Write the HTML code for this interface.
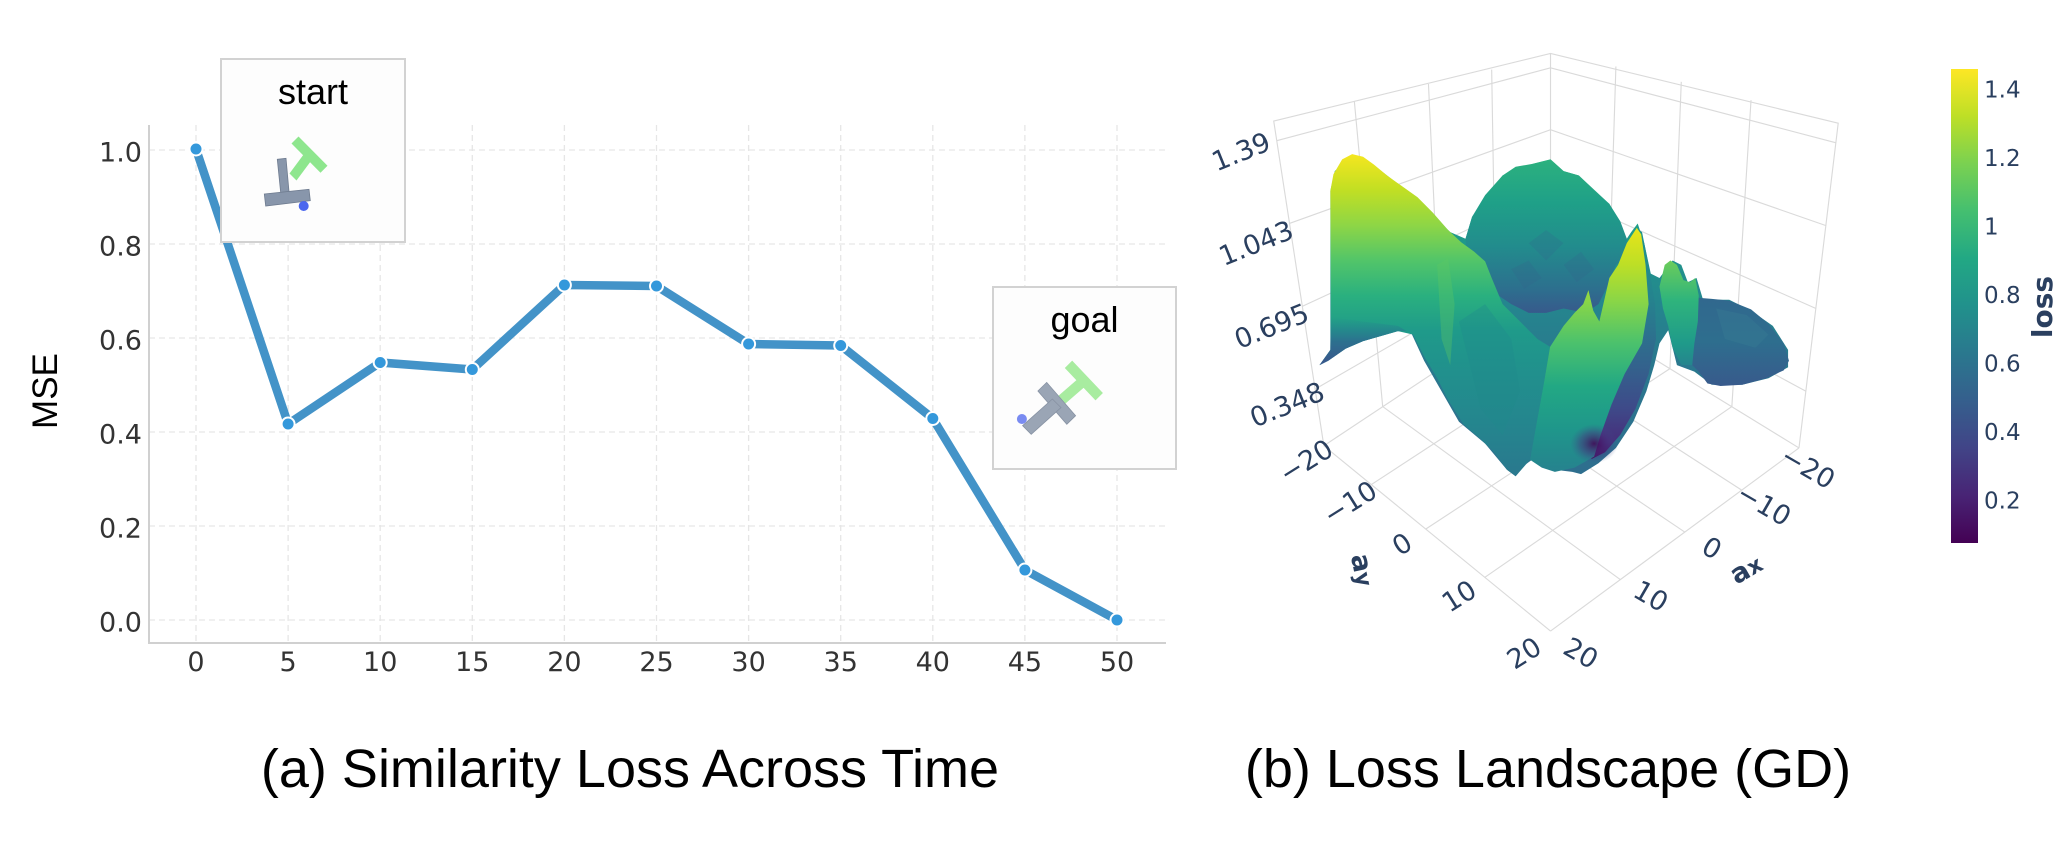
<!DOCTYPE html>
<html>
<head>
<meta charset="utf-8">
<style>
  html,body{margin:0;padding:0;background:#fff;}
  svg{display:block;}
</style>
</head>
<body>
<svg width="2071" height="842" viewBox="0 0 2071 842" xmlns="http://www.w3.org/2000/svg">
  <defs>
    <linearGradient id="cb" x1="0" y1="0" x2="0" y2="1">
      <stop offset="0" stop-color="#fde725"/>
      <stop offset="0.1" stop-color="#bddf26"/>
      <stop offset="0.2" stop-color="#7ad151"/>
      <stop offset="0.3" stop-color="#44bf70"/>
      <stop offset="0.4" stop-color="#22a884"/>
      <stop offset="0.5" stop-color="#21918c"/>
      <stop offset="0.6" stop-color="#2a788e"/>
      <stop offset="0.7" stop-color="#355f8d"/>
      <stop offset="0.8" stop-color="#414487"/>
      <stop offset="0.9" stop-color="#482475"/>
      <stop offset="1" stop-color="#440154"/>
    </linearGradient>
    <linearGradient id="gBase" gradientUnits="userSpaceOnUse" x1="0" y1="220" x2="0" y2="950">
      <stop offset="0" stop-color="#2ab07f"/>
      <stop offset="0.25" stop-color="#1f9a8a"/>
      <stop offset="0.45" stop-color="#24878e"/>
      <stop offset="0.65" stop-color="#2a788e"/>
      <stop offset="1" stop-color="#2e6e8e"/>
    </linearGradient>
    <linearGradient id="gMtn" gradientUnits="userSpaceOnUse" x1="0" y1="228" x2="0" y2="585">
      <stop offset="0" stop-color="#2cb17e"/>
      <stop offset="0.28" stop-color="#1fa088"/>
      <stop offset="0.56" stop-color="#228c8d"/>
      <stop offset="0.82" stop-color="#2c718e"/>
      <stop offset="1" stop-color="#38588c"/>
    </linearGradient>
    <linearGradient id="gLeft" gradientUnits="userSpaceOnUse" x1="0" y1="216" x2="0" y2="955">
      <stop offset="0" stop-color="#f5e61f"/>
      <stop offset="0.11" stop-color="#c2df23"/>
      <stop offset="0.22" stop-color="#8ed645"/>
      <stop offset="0.33" stop-color="#52c569"/>
      <stop offset="0.44" stop-color="#2ab07f"/>
      <stop offset="0.55" stop-color="#1f9a8a"/>
      <stop offset="0.68" stop-color="#21908d"/>
      <stop offset="0.86" stop-color="#25848e"/>
      <stop offset="1" stop-color="#2a788e"/>
    </linearGradient>
    <linearGradient id="gLeftBot" gradientUnits="userSpaceOnUse" x1="0" y1="590" x2="0" y2="700">
      <stop offset="0" stop-color="#25848e" stop-opacity="0"/>
      <stop offset="0.5" stop-color="#2c718e"/>
      <stop offset="1" stop-color="#3a548c"/>
    </linearGradient>
    <linearGradient id="gBlob" gradientUnits="userSpaceOnUse" x1="0" y1="545" x2="0" y2="748">
      <stop offset="0" stop-color="#31688e"/>
      <stop offset="0.5" stop-color="#2e6e8e"/>
      <stop offset="1" stop-color="#385a8c"/>
    </linearGradient>
    <linearGradient id="gGSpike" gradientUnits="userSpaceOnUse" x1="0" y1="460" x2="0" y2="705">
      <stop offset="0" stop-color="#6ccd5a"/>
      <stop offset="0.37" stop-color="#2fb47c"/>
      <stop offset="0.78" stop-color="#1f9a8a"/>
      <stop offset="1" stop-color="#26828e"/>
    </linearGradient>
    <linearGradient id="gF" gradientUnits="userSpaceOnUse" x1="0" y1="385" x2="0" y2="945">
      <stop offset="0" stop-color="#e8e419"/>
      <stop offset="0.15" stop-color="#bddf26"/>
      <stop offset="0.31" stop-color="#86d549"/>
      <stop offset="0.47" stop-color="#4cc26c"/>
      <stop offset="0.65" stop-color="#22a884"/>
      <stop offset="0.83" stop-color="#1f968b"/>
      <stop offset="1" stop-color="#26828e"/>
    </linearGradient>
    <linearGradient id="gDark" gradientUnits="userSpaceOnUse" x1="0" y1="390" x2="0" y2="915">
      <stop offset="0" stop-color="#1f948c"/>
      <stop offset="0.3" stop-color="#25838e"/>
      <stop offset="0.59" stop-color="#33638d"/>
      <stop offset="0.78" stop-color="#3e4a89"/>
      <stop offset="0.93" stop-color="#472d7b"/>
      <stop offset="1" stop-color="#440154"/>
    </linearGradient>
    <radialGradient id="gPurp" cx="0.5" cy="0.5" r="0.5">
      <stop offset="0" stop-color="#440154" stop-opacity="0.85"/>
      <stop offset="0.6" stop-color="#46327e" stop-opacity="0.45"/>
      <stop offset="1" stop-color="#3b528b" stop-opacity="0"/>
    </radialGradient>
  </defs>

  <!-- ================= Panel (a) ================= -->
  <g stroke="#e6e6e6" stroke-width="1.3" stroke-dasharray="6,4" fill="none">
    <line x1="149" y1="150" x2="1166" y2="150"/>
    <line x1="149" y1="244" x2="1166" y2="244"/>
    <line x1="149" y1="338" x2="1166" y2="338"/>
    <line x1="149" y1="432" x2="1166" y2="432"/>
    <line x1="149" y1="526" x2="1166" y2="526"/>
    <line x1="149" y1="620" x2="1166" y2="620"/>
    <line x1="196" y1="125" x2="196" y2="643"/>
    <line x1="288.1" y1="125" x2="288.1" y2="643"/>
    <line x1="380.2" y1="125" x2="380.2" y2="643"/>
    <line x1="472.3" y1="125" x2="472.3" y2="643"/>
    <line x1="564.4" y1="125" x2="564.4" y2="643"/>
    <line x1="656.5" y1="125" x2="656.5" y2="643"/>
    <line x1="748.6" y1="125" x2="748.6" y2="643"/>
    <line x1="840.7" y1="125" x2="840.7" y2="643"/>
    <line x1="932.8" y1="125" x2="932.8" y2="643"/>
    <line x1="1024.9" y1="125" x2="1024.9" y2="643"/>
    <line x1="1117" y1="125" x2="1117" y2="643"/>
  </g>
  <line x1="149" y1="125" x2="149" y2="644" stroke="#d0d0d0" stroke-width="2"/>
  <line x1="148" y1="643" x2="1166" y2="643" stroke="#d0d0d0" stroke-width="2"/>

  <g font-family="'DejaVu Sans', 'Liberation Sans', sans-serif" font-size="27" fill="#333">
    <g text-anchor="end">
      <text x="142" y="161.5">1.0</text>
      <text x="142" y="255.5">0.8</text>
      <text x="142" y="349.5">0.6</text>
      <text x="142" y="443.5">0.4</text>
      <text x="142" y="537.5">0.2</text>
      <text x="142" y="631.5">0.0</text>
    </g>
    <g text-anchor="middle">
      <text x="196" y="671">0</text>
      <text x="288.1" y="671">5</text>
      <text x="380.2" y="671">10</text>
      <text x="472.3" y="671">15</text>
      <text x="564.4" y="671">20</text>
      <text x="656.5" y="671">25</text>
      <text x="748.6" y="671">30</text>
      <text x="840.7" y="671">35</text>
      <text x="932.8" y="671">40</text>
      <text x="1024.9" y="671">45</text>
      <text x="1117" y="671">50</text>
    </g>
  </g>
  <text x="57" y="391" transform="rotate(-90 57 391)" text-anchor="middle" font-family="'Liberation Sans', Arial, sans-serif" font-size="35" fill="#000">MSE</text>

  <polyline fill="none" stroke="#4393c8" stroke-width="8.5" stroke-linejoin="round" stroke-linecap="round"
    points="196,149 288.1,424 380.2,362.5 472.3,369.5 564.4,285 656.5,286 748.6,344 840.7,345.5 932.8,418.5 1024.9,570 1117,620"/>
  <g fill="#3498db" stroke="#ffffff" stroke-width="2">
    <circle cx="196" cy="149" r="6.5"/>
    <circle cx="288.1" cy="424" r="6.5"/>
    <circle cx="380.2" cy="362.5" r="6.5"/>
    <circle cx="472.3" cy="369.5" r="6.5"/>
    <circle cx="564.4" cy="285" r="6.5"/>
    <circle cx="656.5" cy="286" r="6.5"/>
    <circle cx="748.6" cy="344" r="6.5"/>
    <circle cx="840.7" cy="345.5" r="6.5"/>
    <circle cx="932.8" cy="418.5" r="6.5"/>
    <circle cx="1024.9" cy="570" r="6.5"/>
    <circle cx="1117" cy="620" r="6.5"/>
  </g>

  <!-- start box -->
  <rect x="221" y="59" width="184" height="183" fill="#fdfdfd" stroke="#d2d2d2" stroke-width="2"/>
  <text x="313" y="104" text-anchor="middle" font-family="'Liberation Sans', Arial, sans-serif" font-size="36" fill="#000">start</text>
  <polygon points="291.5,143.5 298.5,136.5 327.5,165.8 320.5,172.8" fill="#8ee68e"/>
  <polygon points="306,151.2 313,158.2 296.5,180.5 289.5,173.5" fill="#8ee68e"/>
  <polygon points="277.3,159.3 286,158.3 289,191.7 280.7,192.7" fill="#8896ab" stroke="#6f7c90" stroke-width="0.8"/>
  <polygon points="264.3,194 309,189.3 310.3,200.7 265.7,206" fill="#8896ab" stroke="#6f7c90" stroke-width="0.8"/>
  <circle cx="303.7" cy="206" r="5" fill="#4a66ee"/>

  <!-- goal box -->
  <rect x="993" y="287" width="183" height="182" fill="#fdfdfd" stroke="#d2d2d2" stroke-width="2"/>
  <text x="1084.5" y="332" text-anchor="middle" font-family="'Liberation Sans', Arial, sans-serif" font-size="36" fill="#000">goal</text>
  <polygon points="1064.8,368 1072.2,360.6 1102.9,393 1095.5,400.4" fill="#a8eca0"/>
  <polygon points="1080.3,376.8 1087.7,384.2 1063.3,405.4 1055.9,398" fill="#a8eca0"/>
  <polygon points="1037.9,391 1046.7,382.4 1075.6,415.7 1066.8,424.3" fill="#9aa5b5" stroke="#8792a3" stroke-width="0.8"/>
  <polygon points="1052.4,399 1061,407.6 1031.2,434.3 1022.6,425.7" fill="#9aa5b5" stroke="#8792a3" stroke-width="0.8"/>
  <circle cx="1021.9" cy="419" r="5" fill="#6a7ef0" opacity="0.9"/>

  <!-- ================= Panel (b) ================= -->
  <g transform="translate(1180,60) scale(0.4359)">
    <g stroke="#dadada" stroke-width="2.6" fill="none">
      <polyline points="330,885 215,140 850,-15 1510,145 1420,890"/>
      <line x1="850" y1="-15" x2="850" y2="540"/>
      <line x1="400" y1="95" x2="465" y2="795"/>
      <line x1="570" y1="55" x2="600" y2="706"/>
      <line x1="715" y1="22" x2="725" y2="623"/>
      <line x1="1000" y1="15" x2="981" y2="620"/>
      <line x1="1150" y1="50" x2="1124" y2="708"/>
      <line x1="1310" y1="92" x2="1266" y2="795"/>
      <polyline points="222,185 850,18 1505,190"/>
      <polyline points="251,375 850,160 1482,380"/>
      <polyline points="281,565 850,301 1459,570"/>
      <polyline points="310,755 850,443 1436,760"/>
      <line x1="330" y1="885" x2="850" y2="540"/>
      <line x1="439" y1="974" x2="981" y2="620"/>
      <line x1="564" y1="1076" x2="1124" y2="708"/>
      <line x1="699" y1="1187" x2="1266" y2="795"/>
      <line x1="850" y1="1310" x2="1420" y2="890"/>
      <line x1="850" y1="1310" x2="330" y2="885"/>
      <line x1="1010" y1="1192" x2="465" y2="795"/>
      <line x1="1158" y1="1083" x2="600" y2="706"/>
      <line x1="1289" y1="987" x2="725" y2="623"/>
      <line x1="1420" y1="890" x2="850" y2="540"/>
    </g>

    <polygon fill="url(#gBase)" points="320,700 345,665 345,300 355,255 395,218 430,230 520,300 620,395 655,410 670,360 740,265 810,238 850,228 880,255 915,265 985,330 1025,410 1035,395 1050,375 1065,420 1080,490 1100,500 1130,460 1150,470 1165,510 1185,500 1200,550 1260,550 1310,575 1360,610 1395,665 1395,705 1350,730 1290,745 1220,745 1180,715 1140,700 1120,620 1100,650 1088,700 1070,760 1040,830 1000,890 960,925 920,950 900,945 860,940 810,915 790,930 770,955 750,940 700,880 640,830 600,760 560,690 530,625 500,622 420,645 380,662 340,690"/>

    <polygon fill="url(#gMtn)" points="655,410 670,360 700,310 740,265 770,245 810,238 850,228 880,255 915,265 950,300 985,330 1010,370 1025,410 1030,450 1000,470 980,520 960,560 930,580 880,570 840,580 800,580 760,560 700,520 660,470"/>
    <g fill="#35608d" opacity="0.2">
      <polygon points="800,420 840,390 880,420 840,460"/>
      <polygon points="880,470 920,440 950,480 910,510"/>
      <polygon points="760,480 800,460 830,500 790,525"/>
    </g>

    <polygon fill="url(#gBlob)" points="1185,545 1220,548 1260,552 1310,572 1350,605 1385,650 1397,690 1385,712 1345,730 1290,745 1240,748 1210,742 1190,715 1175,700 1180,640 1188,590"/>
    <polygon fill="#3a7f95" opacity="0.35" points="1230,570 1300,585 1350,630 1320,660 1250,640"/>
    <polygon fill="url(#gGSpike)" points="1100,520 1112,470 1125,460 1140,470 1155,505 1170,510 1182,500 1190,540 1188,600 1180,650 1175,700 1150,700 1130,660 1120,610 1108,570"/>

    <polygon fill="url(#gLeft)" points="320,700 345,665 346,560 345,300 352,262 372,228 395,216 420,222 445,240 475,265 510,290 545,315 580,350 615,390 645,418 675,440 700,462 715,500 740,560 780,600 820,640 849,658 835,740 815,850 803,917 790,932 770,955 750,940 720,900 690,870 650,835 615,780 590,730 560,680 535,630 500,622 420,645 380,662 340,690"/>
    <polygon fill="url(#gLeftBot)" points="320,700 345,665 346,590 420,600 500,610 520,622 500,622 420,645 380,662 340,690"/>
    <polygon fill="#5ec962" opacity="0.35" points="590,470 615,455 630,560 620,700 600,640"/>
    <polygon fill="#1f8a8d" opacity="0.35" points="640,600 700,560 760,640 780,760 740,860 690,800"/>

    <polygon fill="url(#gDark)" points="1048,385 1060,395 1075,470 1090,560 1092,640 1075,720 1045,800 1010,860 975,900 945,915 930,905 960,860 990,790 1020,720 1060,650 1075,560 1068,470"/>
    <polygon fill="url(#gF)" points="803,917 815,850 835,740 849,658 880,610 905,580 925,560 937,528 948,575 962,600 985,500 1005,470 1025,420 1048,385 1058,400 1068,470 1075,560 1060,650 1020,720 990,790 965,860 950,910 905,935 860,945 830,935"/>
    <ellipse cx="950" cy="880" rx="55" ry="45" fill="url(#gPurp)"/>
  </g>

  <g font-family="'DejaVu Sans', 'Liberation Sans', sans-serif" font-size="27" fill="#2a3f5f" text-anchor="middle">
    <text x="1241" y="161" transform="rotate(-22 1241 151.5)">1.39</text>
    <text x="1256" y="252.5" transform="rotate(-22 1256 243)">1.043</text>
    <text x="1271.5" y="335.5" transform="rotate(-22 1271.5 326)">0.695</text>
    <text x="1287" y="414" transform="rotate(-22 1287 404.4)">0.348</text>

    <text x="1306" y="470.5" transform="rotate(-32 1306 461)">−20</text>
    <text x="1350" y="512" transform="rotate(-32 1350 502.5)">−10</text>
    <text x="1402" y="553.5" transform="rotate(-32 1402 544)">0</text>
    <text x="1459" y="605.5" transform="rotate(-32 1459 596)">10</text>
    <text x="1524" y="662.5" transform="rotate(-32 1524 653)">20</text>

    <text x="1808" y="477" transform="rotate(30 1808 467.6)">−20</text>
    <text x="1764" y="514" transform="rotate(30 1764 504.6)">−10</text>
    <text x="1712" y="557.5" transform="rotate(30 1712 548)">0</text>
    <text x="1651" y="605.5" transform="rotate(30 1651 596)">10</text>
    <text x="1581" y="662.5" transform="rotate(30 1581 653)">20</text>

    <text x="1363" y="579" font-weight="bold" transform="rotate(78 1363 570)">a<tspan font-size="22">y</tspan></text>
    <text x="1746" y="578" font-weight="bold" transform="rotate(-30 1746 569)">a<tspan font-size="22">x</tspan></text>
  </g>

  <rect x="1951" y="69" width="27" height="474" fill="url(#cb)"/>
  <g font-family="'DejaVu Sans', 'Liberation Sans', sans-serif" font-size="23" fill="#2a3f5f">
    <text x="1984" y="97.5">1.4</text>
    <text x="1984" y="166.2">1.2</text>
    <text x="1984" y="234.7">1</text>
    <text x="1984" y="303.2">0.8</text>
    <text x="1984" y="371.7">0.6</text>
    <text x="1984" y="440.2">0.4</text>
    <text x="1984" y="508.7">0.2</text>
  </g>
  <text x="2052" y="307" transform="rotate(-90 2052 307)" text-anchor="middle" font-family="'DejaVu Sans', 'Liberation Sans', sans-serif" font-size="28" font-weight="bold" fill="#2a3f5f">loss</text>

  <text x="630" y="787" text-anchor="middle" font-family="'Liberation Sans', Arial, sans-serif" font-size="54" fill="#000">(a) Similarity Loss Across Time</text>
  <text x="1548" y="787" text-anchor="middle" font-family="'Liberation Sans', Arial, sans-serif" font-size="54" fill="#000">(b) Loss Landscape (GD)</text>
</svg>
</body>
</html>
